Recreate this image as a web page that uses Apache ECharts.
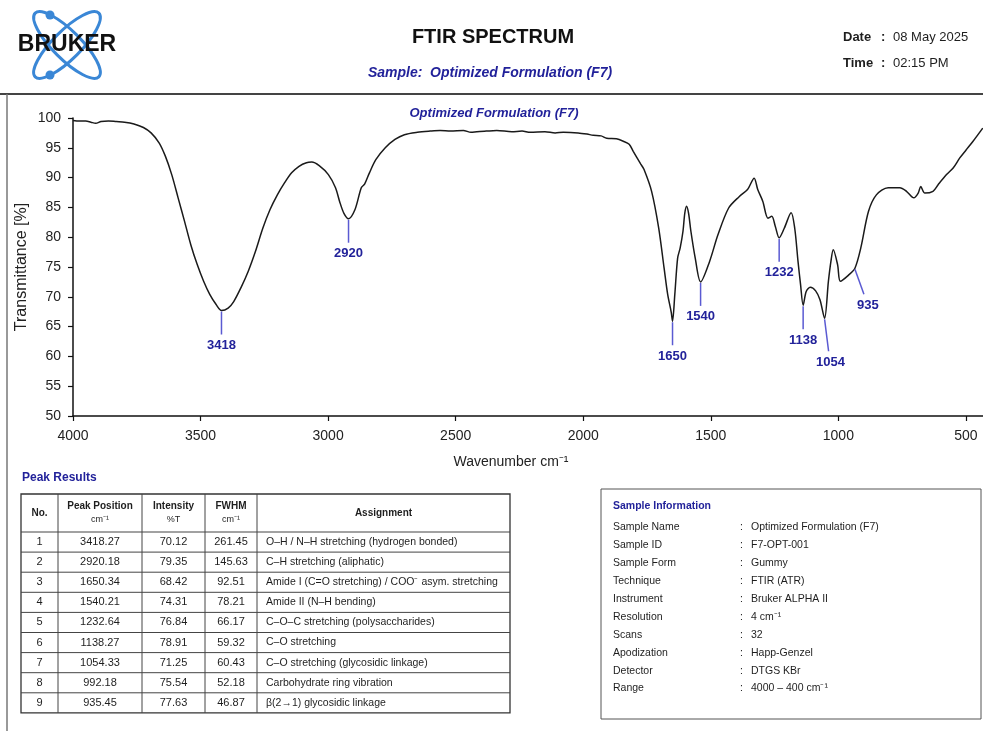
<!DOCTYPE html>
<html>
<head>
<meta charset="utf-8">
<title>FTIR Spectrum – Optimized Formulation (F7)</title>
<script src="https://cdn.jsdelivr.net/npm/echarts@6/dist/echarts.min.js"></script>
<style>
  html, body { margin: 0; padding: 0; background: #ffffff; }
  #chart { width: 983px; height: 731px; }
</style>
</head>
<body>
<div id="chart"></div>
<script>
// ---- Spectrum (wavenumber in cm-1, transmittance in %) ----
const spectrumWavenumber = [
  4000, 3975, 3950, 3930, 3911, 3890, 3861, 3830, 3798, 3761,
  3724, 3694, 3662, 3638, 3613, 3588, 3563, 3538, 3513, 3488,
  3464, 3439, 3418, 3392, 3370, 3342, 3313, 3285, 3256, 3228,
  3199, 3171, 3143, 3114, 3085, 3064, 3035, 2999, 2971, 2955,
  2938, 2920, 2895, 2870, 2857, 2838, 2813, 2776, 2738, 2701,
  2650, 2600, 2561, 2520, 2470, 2440, 2417, 2380, 2339, 2280,
  2240, 2208, 2150, 2110, 2078, 2020, 1985, 1961, 1930, 1908,
  1870, 1843, 1820, 1804, 1775, 1762, 1732, 1704, 1683, 1669,
  1655, 1650, 1641, 1630, 1620, 1609, 1602, 1595, 1587, 1578,
  1561, 1540, 1505, 1472, 1430, 1389, 1356, 1330, 1316, 1296,
  1276, 1261, 1247, 1232, 1212, 1185, 1171, 1158, 1148, 1138,
  1126, 1110, 1089, 1072, 1054, 1039, 1029, 1020, 1003, 992,
  961, 935, 912, 882, 851, 805, 759, 733, 704, 687,
  677, 661, 629, 609, 576, 550, 524, 500, 472, 434
];
const spectrumTransmittance = [
  99.6, 99.5, 99.5, 99.3, 99.1, 99.4, 99.5, 99.4, 99.3, 99.0,
  98.4, 97.5, 95.8, 93.6, 90.5, 86.6, 82.7, 78.7, 75.4, 72.6,
  70.4, 68.7, 67.7, 68.1, 69.2, 71.5, 74.3, 77.6, 81.5, 84.6,
  87.1, 89.1, 90.8, 91.9, 92.5, 92.6, 92.0, 90.5, 88.3, 86.0,
  84.0, 83.1, 84.6, 88.3, 88.9, 90.8, 93.0, 95.0, 96.4, 97.2,
  97.6, 97.8, 97.9, 97.8, 97.9, 97.6, 97.7, 97.8, 97.9, 97.7,
  97.8, 97.6, 97.7, 97.5, 97.6, 97.5, 97.3, 97.1, 97.0, 96.6,
  96.5, 96.1, 95.6, 94.4, 92.3, 91.4, 87.7, 81.5, 74.8, 70.4,
  67.4, 65.9, 70.4, 76.5, 78.2, 81.0, 84.0, 85.2, 84.0, 81.0,
  76.5, 72.5, 75.9, 80.4, 84.9, 86.8, 88.0, 89.9, 88.0, 86.0,
  83.2, 83.5, 81.8, 79.9, 81.5, 84.1, 81.5, 75.9, 72.0, 68.6,
  70.9, 71.6, 71.0, 69.5, 66.4, 72.6, 76.0, 77.9, 75.4, 72.6,
  73.6, 74.8, 78.2, 84.3, 87.1, 88.3, 88.3, 87.7, 86.6, 87.4,
  88.5, 87.4, 87.7, 88.8, 90.5, 91.6, 93.3, 94.6, 96.1, 98.3
];

// Peaks annotated on the spectrum (cm-1)
const peakLabelWavenumbers = [3418, 2920, 1650, 1540, 1232, 1138, 1054, 935];

// Axis ticks
const xTickValues = [4000, 3500, 3000, 2500, 2000, 1500, 1000, 500];

// ---- Peak results table ----
const tableHeaders = [
  ['No.'], ['Peak Position', 'cm⁻¹'], ['Intensity', '%T'], ['FWHM', 'cm⁻¹'], ['Assignment']
];
const tablePeakNo = ['1', '2', '3', '4', '5', '6', '7', '8', '9'];
const tablePeakPosition = ['3418.27', '2920.18', '1650.34', '1540.21', '1232.64', '1138.27', '1054.33', '992.18', '935.45'];
const tableIntensity = ['70.12', '79.35', '68.42', '74.31', '76.84', '78.91', '71.25', '75.54', '77.63'];
const tableFwhm = ['261.45', '145.63', '92.51', '78.21', '66.17', '59.32', '60.43', '52.18', '46.87'];
const tableAssignment = [
  'O–H / N–H stretching (hydrogen bonded)',
  'C–H stretching (aliphatic)',
  'Amide I (C=O stretching) / COO⁻ asym. stretching',
  'Amide II (N–H bending)',
  'C–O–C stretching (polysaccharides)',
  'C–O stretching',
  'C–O stretching (glycosidic linkage)',
  'Carbohydrate ring vibration',
  'β(2→1) glycosidic linkage'
];

// ---- Sample information ----
const infoLabels = ['Sample Name', 'Sample ID', 'Sample Form', 'Technique', 'Instrument',
  'Resolution', 'Scans', 'Apodization', 'Detector', 'Range'];
const infoValues = ['Optimized Formulation (F7)', 'F7-OPT-001', 'Gummy', 'FTIR (ATR)', 'Bruker ALPHA II',
  '4 cm⁻¹', '32', 'Happ-Genzel', 'DTGS KBr', '4000 – 400 cm⁻¹'];

// ---- Header texts ----
const reportTitle = 'FTIR SPECTRUM';
const sampleTitle = 'Sample:  Optimized Formulation (F7)';
const plotTitle = 'Optimized Formulation (F7)';
const reportDate = '08 May 2025';
const reportTime = '02:15 PM';

// ---------------------------------------------------------------
const FONT = '"Liberation Sans", Arial, Helvetica, sans-serif';
const INK = '#1e1e1e';
const NAVY = '#22229a';

const spectrum = spectrumWavenumber.map((w, i) => [w, spectrumTransmittance[i]]);
function transmittanceAt(w) {
  const i = spectrumWavenumber.indexOf(w);
  return spectrumTransmittance[i];
}
const peakPoints = peakLabelWavenumbers.map(w => [w, transmittanceAt(w)]);

// leader line geometry for each peak label (pixels)
const leaderDefault = { dx: 0, len: 24, tx: 0 };
const leaderLayout = { 1054: { dx: 4, len: 33, tx: 6 }, 935: { dx: 9, len: 26, tx: 13 } };

function txt(x, y, text, size, opts) {
  opts = opts || {};
  return {
    type: 'text', x: x, y: y, z: 10,
    style: {
      text: text,
      fill: opts.fill || INK,
      font: (opts.style || '') + ' ' + (opts.weight || 'normal') + ' ' + size + 'px ' + FONT,
      align: opts.align || 'left',
      verticalAlign: 'middle'
    }
  };
}
function hline(x1, x2, y, color, width) {
  return { type: 'line', z: 5, shape: { x1: x1, y1: y, x2: x2, y2: y }, style: { stroke: color, lineWidth: width } };
}
function vline(x, y1, y2, color, width) {
  return { type: 'line', z: 5, shape: { x1: x, y1: y1, x2: x, y2: y2 }, style: { stroke: color, lineWidth: width } };
}

const graphics = [];

// Logo: two crossing orbits with electrons, word mark on top
const orbitBlue = '#3a87d6';
graphics.push({ type: 'ellipse', x: 67, y: 45, rotation: -Math.PI / 4, z: 4,
  shape: { cx: 0, cy: 0, rx: 45, ry: 14 }, style: { fill: 'none', stroke: orbitBlue, lineWidth: 3 } });
graphics.push({ type: 'ellipse', x: 67, y: 45, rotation: Math.PI / 4, z: 4,
  shape: { cx: 0, cy: 0, rx: 45, ry: 14 }, style: { fill: 'none', stroke: orbitBlue, lineWidth: 3 } });
graphics.push({ type: 'circle', z: 4, shape: { cx: 50, cy: 15, r: 4.5 }, style: { fill: orbitBlue } });
graphics.push({ type: 'circle', z: 4, shape: { cx: 50, cy: 75, r: 4.5 }, style: { fill: orbitBlue } });
graphics.push(txt(67, 45, 'BRUKER', 23, { weight: 'bold', align: 'center', fill: '#111' }));

// Report header
graphics.push(txt(493, 37, reportTitle, 20, { weight: 'bold', align: 'center', fill: '#111' }));
graphics.push(txt(490, 73, sampleTitle, 14, { weight: 'bold', style: 'italic', align: 'center', fill: NAVY }));
graphics.push(txt(843, 37, 'Date', 13, { weight: 'bold' }));
graphics.push(txt(881, 37, ':', 13, { weight: 'bold' }));
graphics.push(txt(893, 37, reportDate, 13));
graphics.push(txt(843, 63, 'Time', 13, { weight: 'bold' }));
graphics.push(txt(881, 63, ':', 13, { weight: 'bold' }));
graphics.push(txt(893, 63, reportTime, 13));
graphics.push(hline(0, 983, 94, '#444', 2));
graphics.push(vline(7, 94, 731, '#777', 1.5));

// Plot title and x axis name
graphics.push(txt(494, 113, plotTitle, 13, { weight: 'bold', style: 'italic', align: 'center', fill: NAVY }));
graphics.push(txt(511, 462, 'Wavenumber cm⁻¹', 14, { align: 'center', fill: '#222' }));

// Peak results table
graphics.push(txt(22, 478, 'Peak Results', 12, { weight: 'bold', fill: NAVY }));
const colX = [21, 58, 142, 205, 257, 510];
const tableTop = 494, headBottom = 532, rowH = 20.1;
const tableBottom = headBottom + rowH * tablePeakNo.length;
graphics.push({ type: 'rect', z: 5, shape: { x: colX[0], y: tableTop, width: colX[5] - colX[0], height: tableBottom - tableTop },
  style: { fill: 'none', stroke: '#333', lineWidth: 1.3 } });
for (let i = 0; i < tablePeakNo.length; i++) {
  graphics.push(hline(colX[0], colX[5], headBottom + i * rowH, '#444', 1));
}
for (let c = 1; c < 5; c++) graphics.push(vline(colX[c], tableTop, tableBottom, '#444', 1));
tableHeaders.forEach((lines, c) => {
  const cx = (colX[c] + colX[c + 1]) / 2;
  if (lines.length === 1) {
    graphics.push(txt(cx, (tableTop + headBottom) / 2, lines[0], 10, { weight: 'bold', align: 'center' }));
  } else {
    graphics.push(txt(cx, 506, lines[0], 10, { weight: 'bold', align: 'center' }));
    graphics.push(txt(cx, 520, lines[1], 9, { align: 'center' }));
  }
});
const tableCols = [tablePeakNo, tablePeakPosition, tableIntensity, tableFwhm];
for (let r = 0; r < tablePeakNo.length; r++) {
  const cy = headBottom + rowH * (r + 0.5);
  tableCols.forEach((col, c) => {
    graphics.push(txt((colX[c] + colX[c + 1]) / 2, cy, col[r], 11, { align: 'center' }));
  });
  graphics.push(txt(colX[4] + 9, cy, tableAssignment[r], 10.5));
}

// Sample information box
graphics.push({ type: 'rect', z: 5, shape: { x: 601, y: 489, width: 380, height: 230 },
  style: { fill: 'none', stroke: '#555', lineWidth: 1 } });
graphics.push(txt(613, 506, 'Sample Information', 10.5, { weight: 'bold', fill: NAVY }));
infoLabels.forEach((lab, i) => {
  const y = 527.5 + i * 17.9;
  graphics.push(txt(613, y, lab, 10.5));
  graphics.push(txt(740, y, ':', 10.5));
  graphics.push(txt(751, y, infoValues[i], 10.5));
});

const option = {
  backgroundColor: '#ffffff',
  animation: false,
  grid: { left: 73, right: 0, top: 118, bottom: 315, containLabel: false },
  xAxis: {
    type: 'value', inverse: true, min: 433, max: 4000,
    axisLine: { show: true, lineStyle: { color: '#111', width: 1.5 } },
    axisTick: { show: true, length: 5, customValues: xTickValues, lineStyle: { color: '#111', width: 1.2 } },
    axisLabel: { customValues: xTickValues, formatter: v => String(v),
      color: '#222', fontSize: 14, fontFamily: FONT, margin: 13 },
    splitLine: { show: false }
  },
  yAxis: {
    type: 'value', min: 50, max: 100, interval: 5,
    name: 'Transmittance [%]', nameLocation: 'middle', nameGap: 43, nameMoveOverlap: false,
    nameTextStyle: { color: '#222', fontSize: 16, fontFamily: FONT },
    axisLine: { show: true, lineStyle: { color: '#111', width: 1.5 } },
    axisTick: { show: true, length: 5, lineStyle: { color: '#111', width: 1.2 } },
    axisLabel: { color: '#222', fontSize: 14, fontFamily: FONT, margin: 12 },
    splitLine: { show: false }
  },
  series: [
    {
      name: 'F7', type: 'line', data: spectrum,
      showSymbol: false, smooth: 0.3,
      lineStyle: { color: '#1a1a1a', width: 1.5 },
      z: 3
    },
    {
      name: 'Peaks', type: 'custom', coordinateSystem: 'cartesian2d',
      data: peakPoints, z: 6,
      renderItem: function (params, api) {
        const w = api.value(0);
        const p = api.coord([w, api.value(1)]);
        const lay = leaderLayout[w] || leaderDefault;
        const x2 = p[0] + lay.dx, y2 = p[1] + lay.len;
        return {
          type: 'group',
          children: [
            { type: 'line', shape: { x1: p[0], y1: p[1] + 1, x2: x2, y2: y2 },
              style: { stroke: '#5a5ad2', lineWidth: 1.5 } },
            { type: 'text', x: p[0] + lay.tx, y: y2 + 11,
              style: { text: String(w), fill: NAVY, font: 'bold 13px ' + FONT, align: 'center', verticalAlign: 'middle' } }
          ]
        };
      }
    }
  ],
  graphic: { elements: graphics }
};

const chart = echarts.init(document.getElementById('chart'), null, { renderer: 'canvas' });
chart.setOption(option);
</script>
</body>
</html>
